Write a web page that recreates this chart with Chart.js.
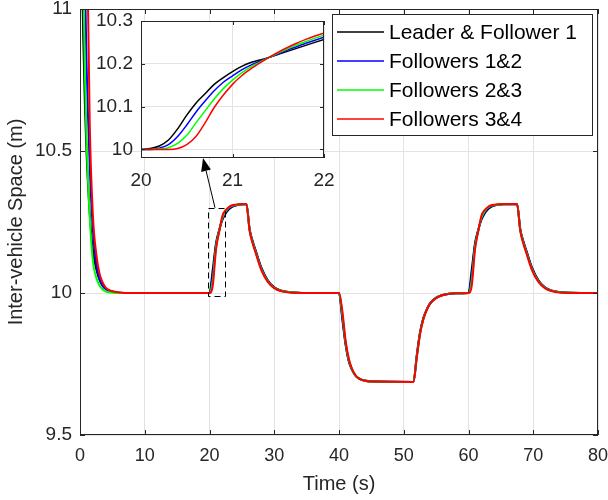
<!DOCTYPE html>
<html>
<head>
<meta charset="utf-8">
<script src="https://cdn.jsdelivr.net/npm/chart.js@4.4.0/dist/chart.umd.min.js"></script>
<style>
  html, body { margin: 0; padding: 0; background: #fff; }
  #wrap { position: relative; width: 608px; height: 500px; }
  #main { position: absolute; left: 0; top: 0; }
  #inset { position: absolute; left: 80px; top: 0; }
</style>
</head>
<body>
<div id="wrap">
  <canvas id="main" width="608" height="500"></canvas>
  <canvas id="inset" width="260" height="200"></canvas>
</div>
<script>
// ---- data ----
const seriesNames = ['Leader & Follower 1', 'Followers 1&2', 'Followers 2&3', 'Followers 3&4'];
const seriesColors = ['#000000', '#0000ff', '#00ff00', '#ff0000'];

const xTicks = [0, 10, 20, 30, 40, 50, 60, 70, 80];
const yTicks = [9.5, 10, 10.5, 11];

const time = [0, 0.25, 0.5, 0.75, 1, 1.5, 2, 2.5, 3, 3.5, 4, 5, 6, 8, 20,
  20.5, 21, 21.5, 22, 22.5, 23, 23.5, 24, 25, 25.7,
  26.2, 26.7, 27.2, 28, 29, 30, 31, 33, 36, 40,
  40.5, 41, 41.5, 42, 42.5, 43, 43.5, 44, 45, 51.5,
  52, 52.5, 53, 53.5, 54, 55, 56, 57, 58, 60,
  60.5, 61, 61.5, 62, 62.5, 63, 63.5, 64, 65, 67.5,
  68, 68.5, 69, 69.8, 70.8, 71.8, 72.8, 74.8, 80];

const leaderF1 = [11.62, 11.21, 10.90, 10.67, 10.50, 10.28, 10.15, 10.085, 10.047, 10.026, 10.015, 10.005, 10.001, 10.0, 10.0,
  10.082, 10.175, 10.222, 10.258, 10.28, 10.295, 10.303, 10.308, 10.312, 10.313,
  10.225, 10.18, 10.145, 10.09, 10.045, 10.02, 10.009, 10.002, 10.0, 10.0,
  9.91, 9.82, 9.76, 9.73, 9.71, 9.70, 9.695, 9.692, 9.689, 9.687,
  9.78, 9.86, 9.91, 9.94, 9.962, 9.984, 9.993, 9.997, 9.999, 10.0,
  10.082, 10.175, 10.222, 10.258, 10.28, 10.295, 10.303, 10.308, 10.312, 10.313,
  10.225, 10.18, 10.145, 10.09, 10.045, 10.02, 10.009, 10.002, 10.0];

const f12 = [12.5, 12.0, 11.5, 11.12, 10.82, 10.45, 10.22, 10.105, 10.05, 10.025, 10.013, 10.004, 10.001, 10.0, 10.0,
  10.062, 10.167, 10.22, 10.262, 10.284, 10.298, 10.305, 10.309, 10.312, 10.313,
  10.222, 10.177, 10.142, 10.087, 10.043, 10.019, 10.008, 10.002, 10.0, 10.0,
  9.92, 9.825, 9.763, 9.731, 9.711, 9.70, 9.694, 9.691, 9.688, 9.687,
  9.775, 9.857, 9.908, 9.939, 9.961, 9.983, 9.993, 9.997, 9.999, 10.0,
  10.062, 10.167, 10.22, 10.262, 10.284, 10.298, 10.305, 10.309, 10.312, 10.313,
  10.222, 10.177, 10.142, 10.087, 10.043, 10.019, 10.008, 10.002, 10.0];

const f23 = [12.1, 11.6, 11.12, 10.78, 10.55, 10.27, 10.11, 10.055, 10.027, 10.012, 10.005, 10.001, 10.0, 10.0, 10.0,
  10.043, 10.16, 10.218, 10.266, 10.288, 10.301, 10.307, 10.31, 10.312, 10.313,
  10.22, 10.174, 10.139, 10.084, 10.041, 10.018, 10.008, 10.002, 10.0, 10.0,
  9.93, 9.83, 9.766, 9.732, 9.711, 9.70, 9.694, 9.691, 9.688, 9.687,
  9.772, 9.855, 9.906, 9.938, 9.96, 9.983, 9.992, 9.997, 9.999, 10.0,
  10.043, 10.16, 10.218, 10.266, 10.288, 10.301, 10.307, 10.31, 10.312, 10.313,
  10.22, 10.174, 10.139, 10.084, 10.041, 10.018, 10.008, 10.002, 10.0];

const f34 = [13.0, 12.5, 12.0, 11.65, 11.4, 10.6, 10.27, 10.14, 10.07, 10.037, 10.018, 10.006, 10.002, 10.0, 10.0,
  10.025, 10.152, 10.216, 10.272, 10.292, 10.303, 10.309, 10.311, 10.313, 10.313,
  10.218, 10.172, 10.136, 10.081, 10.039, 10.017, 10.007, 10.001, 10.0, 10.0,
  9.94, 9.835, 9.77, 9.733, 9.712, 9.70, 9.694, 9.691, 9.688, 9.687,
  9.77, 9.853, 9.905, 9.937, 9.96, 9.982, 9.992, 9.997, 9.999, 10.0,
  10.025, 10.152, 10.216, 10.272, 10.292, 10.303, 10.309, 10.311, 10.313, 10.313,
  10.218, 10.172, 10.136, 10.081, 10.039, 10.017, 10.007, 10.001, 10.0];

// zoomed view 20 s .. 22 s
const insetTime = [20, 20.1, 20.2, 20.3, 20.4, 20.5, 20.6, 20.7, 20.8, 20.9, 21,
  21.1, 21.2, 21.3, 21.4, 21.5, 21.6, 21.7, 21.8, 21.9, 22];
const insetLeaderF1 = [10.0, 10.002, 10.008, 10.022, 10.048, 10.08, 10.108, 10.13, 10.152, 10.168, 10.182,
  10.194, 10.203, 10.209, 10.215, 10.222, 10.229, 10.236, 10.243, 10.25, 10.257];
const insetF12 = [10.0, 10.0, 10.003, 10.011, 10.03, 10.057, 10.087, 10.113, 10.137, 10.157, 10.172,
  10.186, 10.197, 10.206, 10.215, 10.223, 10.232, 10.24, 10.248, 10.255, 10.262];
const insetF23 = [10.0, 10.0, 10.001, 10.004, 10.014, 10.033, 10.062, 10.09, 10.118, 10.142, 10.162,
  10.179, 10.193, 10.204, 10.215, 10.225, 10.235, 10.244, 10.252, 10.26, 10.267];
const insetF34 = [10.0, 10.0, 10.0, 10.0, 10.002, 10.011, 10.03, 10.062, 10.098, 10.127, 10.152,
  10.172, 10.188, 10.202, 10.215, 10.227, 10.238, 10.248, 10.257, 10.265, 10.272];
const insetXTicks = [20, 21, 22];
const insetYTicks = [10, 10.1, 10.2, 10.3];

// zoom box and arrow, in data units of the main axes
const zoomBox = { x0: 19.7, x1: 22.4, y0: 9.99, y1: 10.3 };
const arrowTail = { x: 20.85, y: 10.3 };
const arrowHead = { x: 19.0, y: 10.475 };

const FONT = "'Liberation Sans', Arial, Helvetica, sans-serif";
const AXIS = '#262626';
const GRID = '#e3e3e3';

function toXY(xs, ys) {
  return xs.map((t, i) => ({ x: t, y: ys[i] }));
}

function fmt(v) {
  return String(Math.round(v * 100) / 100);
}

function makeSets(xs, list, width) {
  return list.map((ys, i) => ({
    label: seriesNames[i],
    data: toXY(xs, ys),
    borderColor: seriesColors[i],
    backgroundColor: seriesColors[i],
    borderWidth: width,
    pointRadius: 0,
    cubicInterpolationMode: 'monotone',
    clip: 0,
    order: list.length - i   // later series drawn on top, like matlab
  }));
}

// frame + inward tick marks (matlab style)
function drawFrame(chart, xt, yt, len) {
  const { ctx, chartArea: a, scales: { x, y } } = chart;
  ctx.save();
  ctx.strokeStyle = AXIS;
  ctx.lineWidth = 1;
  ctx.beginPath();
  xt.forEach(v => {
    const p = Math.round(x.getPixelForValue(v)) + 0.5;
    ctx.moveTo(p, a.bottom); ctx.lineTo(p, a.bottom - len);
    ctx.moveTo(p, a.top); ctx.lineTo(p, a.top + len);
  });
  yt.forEach(v => {
    const p = Math.round(y.getPixelForValue(v)) + 0.5;
    ctx.moveTo(a.left, p); ctx.lineTo(a.left + len, p);
    ctx.moveTo(a.right, p); ctx.lineTo(a.right - len, p);
  });
  ctx.stroke();
  ctx.strokeRect(Math.round(a.left) + 0.5, Math.round(a.top) + 0.5,
    Math.round(a.width) - 1, Math.round(a.height) - 1);
  ctx.restore();
}

const mainDecor = {
  id: 'mainDecor',
  afterDatasetsDraw(chart) {
    const { ctx, chartArea: a, scales: { x, y } } = chart;
    drawFrame(chart, xTicks, yTicks, 5);

    ctx.save();
    // dashed zoom rectangle
    ctx.strokeStyle = '#000';
    ctx.lineWidth = 1;
    ctx.setLineDash([6, 4]);
    const rx0 = x.getPixelForValue(zoomBox.x0), rx1 = x.getPixelForValue(zoomBox.x1);
    const ry0 = y.getPixelForValue(zoomBox.y1), ry1 = y.getPixelForValue(zoomBox.y0);
    ctx.strokeRect(Math.round(rx0) + 0.5, Math.round(ry0) + 0.5, Math.round(rx1 - rx0), Math.round(ry1 - ry0));
    ctx.setLineDash([]);

    // arrow
    const tx = x.getPixelForValue(arrowTail.x), ty = y.getPixelForValue(arrowTail.y);
    const hx = x.getPixelForValue(arrowHead.x), hy = y.getPixelForValue(arrowHead.y);
    const ang = Math.atan2(hy - ty, hx - tx);
    const L = 13, W = 5;
    const bx = hx - L * Math.cos(ang), by = hy - L * Math.sin(ang);
    ctx.beginPath();
    ctx.moveTo(tx, ty); ctx.lineTo(bx, by);
    ctx.stroke();
    ctx.beginPath();
    ctx.moveTo(hx, hy);
    ctx.lineTo(bx + W * Math.sin(ang), by - W * Math.cos(ang));
    ctx.lineTo(bx - W * Math.sin(ang), by + W * Math.cos(ang));
    ctx.closePath();
    ctx.fillStyle = '#000';
    ctx.fill();

    // legend box
    const lw = 260, lh = 121;
    const lx = Math.round(a.right - 6 - lw), ly = Math.round(a.top + 5);
    ctx.fillStyle = '#fff';
    ctx.fillRect(lx, ly, lw, lh);
    ctx.strokeStyle = AXIS;
    ctx.strokeRect(lx + 0.5, ly + 0.5, lw, lh);
    ctx.font = '21px ' + FONT;
    ctx.textBaseline = 'middle';
    ctx.textAlign = 'left';
    seriesNames.forEach((name, i) => {
      const ry = ly + 18 + i * 29;
      ctx.strokeStyle = seriesColors[i];
      ctx.lineWidth = 1.5;
      ctx.beginPath();
      ctx.moveTo(lx + 5, ry); ctx.lineTo(lx + 52, ry);
      ctx.stroke();
      ctx.fillStyle = '#000';
      ctx.fillText(name, lx + 57, ry + 1);
    });
    ctx.restore();
  }
};

new Chart(document.getElementById('main'), {
  type: 'line',
  data: { datasets: makeSets(time, [leaderF1, f12, f23, f34], 2) },
  options: {
    responsive: false,
    animation: false,
    layout: { padding: { top: 9, right: 10, left: 0, bottom: 0 } },
    plugins: { legend: { display: false }, tooltip: { enabled: false } },
    scales: {
      x: {
        type: 'linear', min: 0, max: 80,
        afterBuildTicks: s => { s.ticks = xTicks.map(v => ({ value: v })); },
        afterFit: s => { s.height = 65; s.paddingLeft = 0; s.paddingRight = 0; },
        grid: { color: GRID, drawTicks: false },
        border: { display: false },
        ticks: { color: AXIS, font: { family: FONT, size: 18 }, padding: 10, maxRotation: 0, callback: fmt },
        title: { display: true, text: 'Time (s)', color: AXIS, font: { family: FONT, size: 20 }, padding: { top: 0, bottom: 4 } }
      },
      y: {
        type: 'linear', min: 9.5, max: 11,
        afterBuildTicks: s => { s.ticks = yTicks.map(v => ({ value: v })); },
        afterFit: s => { s.width = 80; s.paddingTop = 0; s.paddingBottom = 0; },
        grid: { color: GRID, drawTicks: false },
        border: { display: false },
        ticks: { color: AXIS, font: { family: FONT, size: 19 }, padding: 8, callback: fmt },
        title: { display: true, text: 'Inter-vehicle Space (m)', color: AXIS, font: { family: FONT, size: 20 }, padding: { top: 4, bottom: 0 } }
      }
    }
  },
  plugins: [mainDecor]
});

const insetDecor = {
  id: 'insetDecor',
  beforeDraw(chart) {
    const { ctx, chartArea: a } = chart;
    ctx.save();
    ctx.fillStyle = '#fff';
    ctx.fillRect(a.left, a.top, a.width, a.height);
    ctx.restore();
  },
  afterDatasetsDraw(chart) {
    drawFrame(chart, insetXTicks, insetYTicks, 4);
  }
};

new Chart(document.getElementById('inset'), {
  type: 'line',
  data: { datasets: makeSets(insetTime, [insetLeaderF1, insetF12, insetF23, insetF34], 1.5) },
  options: {
    responsive: false,
    animation: false,
    layout: { padding: { top: 21, right: 16, left: 0, bottom: 0 } },
    plugins: { legend: { display: false }, tooltip: { enabled: false } },
    scales: {
      x: {
        type: 'linear', min: 20, max: 22,
        afterBuildTicks: s => { s.ticks = insetXTicks.map(v => ({ value: v })); },
        afterFit: s => { s.height = 42; s.paddingLeft = 0; s.paddingRight = 0; },
        grid: { color: GRID, drawTicks: false },
        border: { display: false },
        ticks: { color: AXIS, font: { family: FONT, size: 19 }, padding: 11, maxRotation: 0, callback: fmt }
      },
      y: {
        type: 'linear', min: 9.98, max: 10.3,
        afterBuildTicks: s => { s.ticks = insetYTicks.map(v => ({ value: v })); },
        afterFit: s => { s.width = 61; s.paddingTop = 0; s.paddingBottom = 0; },
        grid: { color: GRID, drawTicks: false },
        border: { display: false },
        ticks: { color: AXIS, font: { family: FONT, size: 19 }, padding: 8, callback: fmt }
      }
    }
  },
  plugins: [insetDecor]
});
</script>
</body>
</html>
